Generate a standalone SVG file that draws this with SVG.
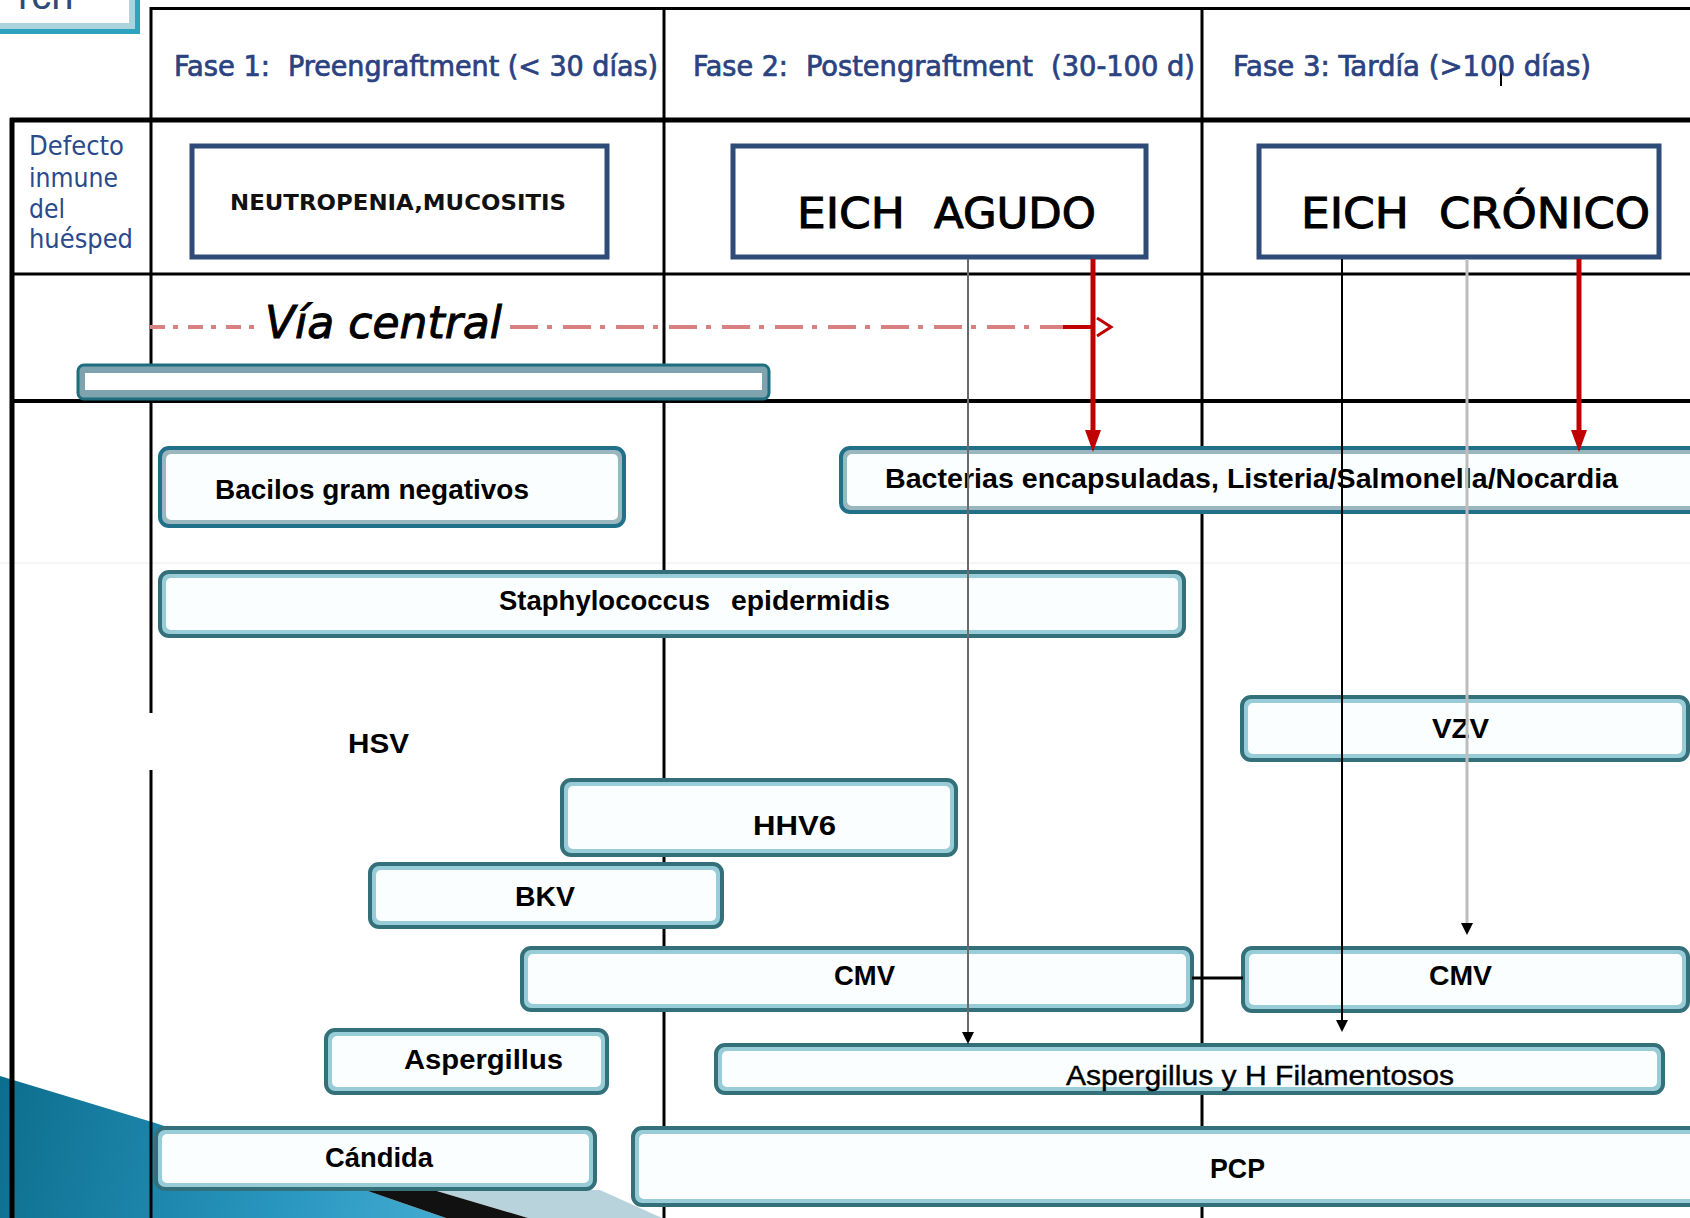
<svg xmlns="http://www.w3.org/2000/svg" width="1690" height="1218" viewBox="0 0 1690 1218">
<style>
.grid{stroke:#000;fill:none}
.hdr{font-family:"DejaVu Sans Condensed","DejaVu Sans",sans-serif;font-size:29px;fill:#2B4281;stroke:#2B4281;stroke-width:0.7}
.side{font-family:"DejaVu Sans Condensed","DejaVu Sans",sans-serif;font-size:27px;fill:#2A4A8C}
.ebox{fill:#fff;stroke:#2F4B78;stroke-width:5}
.eich{font-family:"DejaVu Sans","Liberation Sans",sans-serif;font-size:43px;fill:#000;stroke:#000;stroke-width:1}
.neu{font-family:"DejaVu Sans","Liberation Sans",sans-serif;font-weight:bold;font-size:22px;fill:#111}
.bo1{fill:#9AB6BF;stroke:#1F7088;stroke-width:4}
.bo2{fill:#98CDD8;stroke:#33707A;stroke-width:4}
.bi{fill:#FAFEFF}
.lbl{font-family:"Liberation Sans",Arial,sans-serif;font-weight:bold;font-size:28px;fill:#000}
.lbln{font-family:"Liberation Sans",Arial,sans-serif;font-size:28px;fill:#000;stroke:#000;stroke-width:0.4}
.via{font-family:"DejaVu Sans","Liberation Sans",sans-serif;font-style:italic;font-size:44px;fill:#000;stroke:#000;stroke-width:1}
.dd{stroke:#D98080;stroke-width:4;fill:none}
.red{stroke:#C00000;stroke-width:5;fill:none}
</style>
<defs>
<marker id="ahRed" viewBox="0 0 22 16" refX="8" refY="8" markerWidth="22" markerHeight="16" markerUnits="userSpaceOnUse" orient="auto"><path d="M0,0 L22,8 L0,16 z" fill="#C00000"/></marker>
<marker id="ahBlk" viewBox="0 0 12 12" refX="4" refY="6" markerWidth="12" markerHeight="12" markerUnits="userSpaceOnUse" orient="auto"><path d="M0,0 L12,6 L0,12 z" fill="#000"/></marker>
<linearGradient id="blueG" x1="0" y1="1076" x2="600" y2="1218" gradientUnits="userSpaceOnUse">
<stop offset="0" stop-color="#0C6E8E"/><stop offset="0.5" stop-color="#2A97C0"/><stop offset="1" stop-color="#5BBDE0"/>
</linearGradient>
</defs>
<rect x="0" y="0" width="1690" height="1218" fill="#fff"/>

<g id="decoration">
<rect x="-10" y="-10" width="150" height="44" fill="#2EA3C0"/>
<rect x="-10" y="-10" width="145" height="39" fill="#ABD4DF"/>
<rect x="-10" y="-10" width="139" height="33" fill="#fff"/>
<text x="18" y="9" font-family="Liberation Sans,Arial,sans-serif" font-size="40" fill="#2E4A7A">rch</text>
<polygon points="0,1076 152,1122 362,1189 446,1218 0,1218" fill="url(#blueG)"/>
<polygon points="430,1189 600,1190 662,1218 528,1218" fill="#B9D3DD"/>
<polygon points="362,1189 430,1189 528,1218 446,1218" fill="#111"/>
</g>

<g id="table">
<path d="M0,563 H1690" stroke="#ECECEC" stroke-width="1"/>
<path class="grid" d="M150,8.5 H1690" stroke-width="3"/>
<path class="grid" d="M10,120 H1690" stroke-width="5"/>
<path class="grid" d="M12,274 H1690" stroke-width="3"/>
<path class="grid" d="M12,401 H1690" stroke-width="4"/>
<path class="grid" d="M12,118 V1218" stroke-width="5"/>
<path class="grid" d="M151,7 V1218" stroke-width="3"/>
<path class="grid" d="M664,7 V1218" stroke-width="3"/>
<path class="grid" d="M1202,7 V1218" stroke-width="3"/>
<rect x="145" y="713" width="11" height="57" fill="#fff"/>
<path d="M1501,65 V86" stroke="#000" stroke-width="2"/>
</g>

<g id="headers">
<text class="hdr" x="174" y="76" textLength="96" lengthAdjust="spacingAndGlyphs">Fase 1:</text>
<text class="hdr" x="288" y="76" textLength="370" lengthAdjust="spacingAndGlyphs">Preengraftment (&lt; 30 días)</text>
<text class="hdr" x="693" y="76" textLength="95" lengthAdjust="spacingAndGlyphs">Fase 2:</text>
<text class="hdr" x="806" y="76" textLength="227" lengthAdjust="spacingAndGlyphs">Postengraftment</text>
<text class="hdr" x="1051" y="76" textLength="144" lengthAdjust="spacingAndGlyphs">(30-100 d)</text>
<text class="hdr" x="1233" y="76" textLength="358" lengthAdjust="spacingAndGlyphs">Fase 3: Tardía (&gt;100 días)</text>
</g>

<g id="defecto">
<text class="side" x="29" y="155" textLength="95" lengthAdjust="spacingAndGlyphs">Defecto</text>
<text class="side" x="29" y="187" textLength="89" lengthAdjust="spacingAndGlyphs">inmune</text>
<text class="side" x="29" y="218" textLength="36" lengthAdjust="spacingAndGlyphs">del</text>
<text class="side" x="29" y="248" textLength="104" lengthAdjust="spacingAndGlyphs">huésped</text>
</g>

<g id="neutropenia">
<rect class="ebox" x="192" y="146" width="415" height="111"/>
<text class="neu" x="230" y="210" textLength="336" lengthAdjust="spacingAndGlyphs">NEUTROPENIA,MUCOSITIS</text>
</g>
<g id="eich-agudo">
<rect class="ebox" x="733" y="146" width="413" height="111"/>
<text class="eich" x="797" y="228" textLength="108" lengthAdjust="spacingAndGlyphs">EICH</text>
<text class="eich" x="934" y="228" textLength="162" lengthAdjust="spacingAndGlyphs">AGUDO</text>
</g>
<g id="eich-cronico">
<rect class="ebox" x="1259" y="146" width="400" height="111"/>
<text class="eich" x="1301" y="228" textLength="108" lengthAdjust="spacingAndGlyphs">EICH</text>
<text class="eich" x="1439" y="228" textLength="211" lengthAdjust="spacingAndGlyphs">CRÓNICO</text>
</g>

<g id="via-central">
<rect x="78" y="365" width="691" height="34" rx="6" fill="#7FA3AE" stroke="#1F6E80" stroke-width="3"/>
<rect x="85" y="373" width="677" height="17" fill="#fff"/>
<text class="via" x="265" y="338" textLength="237" lengthAdjust="spacingAndGlyphs">Vía central</text>
</g>

<g id="bacilos">
<rect class="bo1" x="160" y="448" width="464" height="78" rx="9"/>
<rect class="bi" x="166" y="454" width="452" height="66" rx="5"/>
<text class="lbl" x="215" y="499" textLength="314" lengthAdjust="spacingAndGlyphs">Bacilos gram negativos</text>
</g>
<g id="bacterias">
<rect class="bo1" x="841" y="448" width="880" height="64" rx="9"/>
<rect class="bi" x="847" y="454" width="868" height="52" rx="5"/>
<text class="lbl" x="885" y="488" textLength="733" lengthAdjust="spacingAndGlyphs">Bacterias encapsuladas, Listeria/Salmonella/Nocardia</text>
</g>
<g id="staphylococcus">
<rect class="bo2" x="160" y="572" width="1024" height="64" rx="9"/>
<rect class="bi" x="166" y="578" width="1012" height="52" rx="5"/>
<text class="lbl" x="499" y="610" textLength="211" lengthAdjust="spacingAndGlyphs">Staphylococcus</text>
<text class="lbl" x="731" y="610" textLength="159" lengthAdjust="spacingAndGlyphs">epidermidis</text>
</g>
<g id="hsv">
<text class="lbl" x="348" y="753" textLength="61" lengthAdjust="spacingAndGlyphs">HSV</text>
</g>
<g id="vzv">
<rect class="bo2" x="1242" y="697" width="446" height="63" rx="9"/>
<rect class="bi" x="1248" y="703" width="434" height="51" rx="5"/>
<text class="lbl" x="1432" y="738" textLength="57" lengthAdjust="spacingAndGlyphs">VZV</text>
</g>
<g id="hhv6">
<rect class="bo2" x="562" y="780" width="394" height="75" rx="9"/>
<rect class="bi" x="568" y="786" width="382" height="63" rx="5"/>
<text class="lbl" x="753" y="835" textLength="83" lengthAdjust="spacingAndGlyphs">HHV6</text>
</g>
<g id="bkv">
<rect class="bo2" x="370" y="864" width="352" height="63" rx="9"/>
<rect class="bi" x="376" y="870" width="340" height="51" rx="5"/>
<text class="lbl" x="515" y="906" textLength="60" lengthAdjust="spacingAndGlyphs">BKV</text>
</g>
<g id="cmv-1">
<rect class="bo2" x="522" y="948" width="670" height="62" rx="9"/>
<rect class="bi" x="528" y="954" width="658" height="50" rx="5"/>
<text class="lbl" x="834" y="985" textLength="61" lengthAdjust="spacingAndGlyphs">CMV</text>
</g>
<g id="cmv-2">
<rect class="bo2" x="1243" y="948" width="445" height="63" rx="9"/>
<rect class="bi" x="1249" y="954" width="433" height="51" rx="5"/>
<text class="lbl" x="1429" y="985" textLength="63" lengthAdjust="spacingAndGlyphs">CMV</text>
</g>
<g id="aspergillus">
<rect class="bo2" x="326" y="1030" width="281" height="63" rx="9"/>
<rect class="bi" x="332" y="1036" width="269" height="51" rx="5"/>
<text class="lbl" x="404" y="1069" textLength="159" lengthAdjust="spacingAndGlyphs">Aspergillus</text>
</g>
<g id="aspergillus-filamentosos">
<rect class="bo2" x="716" y="1045" width="947" height="48" rx="9"/>
<rect class="bi" x="722" y="1051" width="935" height="36" rx="5"/>
<text class="lbln" x="1066" y="1085" textLength="388" lengthAdjust="spacingAndGlyphs">Aspergillus y H Filamentosos</text>
</g>
<g id="candida">
<rect class="bo2" x="156" y="1128" width="439" height="61" rx="9"/>
<rect class="bi" x="162" y="1134" width="427" height="49" rx="5"/>
<text class="lbl" x="325" y="1167" textLength="108" lengthAdjust="spacingAndGlyphs">Cándida</text>
</g>
<g id="pcp">
<rect class="bo2" x="633" y="1128" width="1090" height="77" rx="9"/>
<rect class="bi" x="639" y="1134" width="1078" height="65" rx="5"/>
<text class="lbl" x="1210" y="1178" textLength="55" lengthAdjust="spacingAndGlyphs">PCP</text>
</g>

<g id="connectors">
<path class="dd" d="M150,327 H258" stroke-dasharray="15 8 5 10"/>
<path class="dd" d="M510,327 H1063" stroke-dasharray="28 9 5 11"/>
<path d="M1063,327 H1095" stroke="#C00000" stroke-width="4"/>
<polyline points="1097,318 1111,327 1097,336" fill="none" stroke="#C00000" stroke-width="3"/>
<path class="red" d="M1093,259 V438" marker-end="url(#ahRed)"/>
<path class="red" d="M1579,259 V438" marker-end="url(#ahRed)"/>
<path d="M968,259 V1036" stroke="#6A6A6A" stroke-width="2" marker-end="url(#ahBlk)"/>
<path d="M1342,259 V1024" stroke="#000" stroke-width="2" marker-end="url(#ahBlk)"/>
<path d="M1467,259 V927" stroke="#BDBDBD" stroke-width="3" marker-end="url(#ahBlk)"/>
<path d="M1192,978 H1243" stroke="#000" stroke-width="3"/>
</g>
</svg>
